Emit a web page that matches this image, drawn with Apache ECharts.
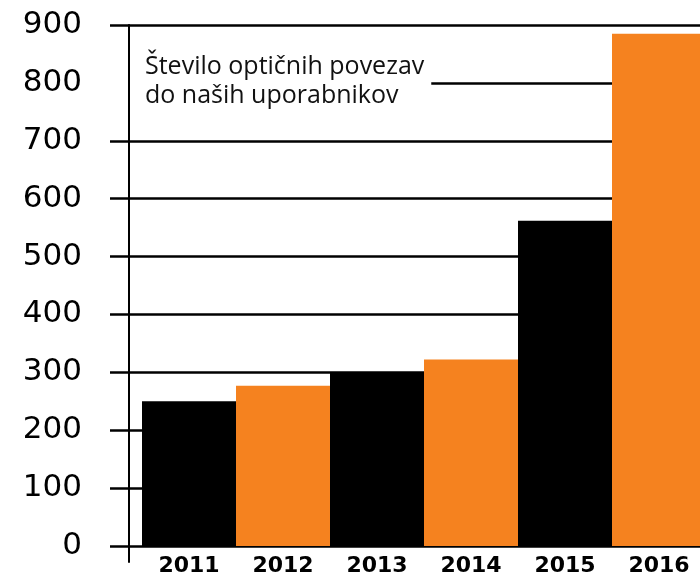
<!DOCTYPE html>
<html>
<head>
<meta charset="utf-8">
<script src="https://cdn.jsdelivr.net/npm/echarts@6/dist/echarts.min.js"></script>
<style>
  html, body { margin: 0; padding: 0; background: #fff; }
  #chart { width: 700px; height: 580px; }
</style>
</head>
<body>
<div id="chart"></div>
<script>
// podatki
const years = ['2011', '2012', '2013', '2014', '2015', '2016']
const connections = [250, 277, 300, 322, 562, 885]
const yMin = 0
const yMax = 900
const yStep = 100
const titleText = 'Število optičnih povezav\ndo naših uporabnikov'

const black = '#000000'
const orange = '#f5821f'

const chart = echarts.init(document.getElementById('chart'))

const option = {
  animation: false,
  backgroundColor: '#ffffff',
  title: {
    text: titleText,
    left: 108,
    top: 44,
    padding: [8, 7, 8, 37],
    backgroundColor: '#ffffff',
    textStyle: {
      fontFamily: 'Open Sans',
      fontSize: 25,
      fontWeight: 'normal',
      lineHeight: 29,
      color: '#111111'
    }
  },
  grid: [
    // mreža za vodoravne črte
    { left: 110, width: 596, top: 25, bottom: 34, outerBoundsMode: 'none' },
    // mreža za stolpce
    { left: 142, width: 564, top: 25, bottom: 34, outerBoundsMode: 'none' },
    // navpična os
    { left: 129, width: 1, top: 25, bottom: 18, outerBoundsMode: 'none' }
  ],
  xAxis: [
    { gridIndex: 0, type: 'value', show: false, min: 0, max: 1 },
    {
      gridIndex: 1,
      type: 'category',
      data: years,
      axisLine: { show: false },
      axisTick: { show: false },
      axisLabel: {
        margin: 9,
        fontFamily: 'DejaVu Sans',
        fontWeight: 'bold',
        fontSize: 22,
        color: '#000'
      }
    },
    { gridIndex: 2, type: 'value', show: false, min: 0, max: 1 }
  ],
  yAxis: [
    {
      gridIndex: 0,
      type: 'value',
      min: yMin,
      max: yMax,
      interval: yStep,
      axisLine: { show: false },
      axisTick: { show: false },
      axisLabel: {
        margin: 28,
        fontFamily: 'DejaVu Sans',
        fontSize: 31,
        color: '#000'
      },
      splitLine: { lineStyle: { color: '#000', width: 2.7 } }
    },
    {
      gridIndex: 1,
      type: 'value',
      min: yMin,
      max: yMax,
      show: false
    },
    {
      gridIndex: 2,
      type: 'value',
      min: 0,
      max: 1,
      z: 10,
      axisLine: { show: true, lineStyle: { color: '#000', width: 2 } },
      axisTick: { show: false },
      axisLabel: { show: false },
      splitLine: { show: false }
    }
  ],
  series: [
    {
      type: 'bar',
      xAxisIndex: 1,
      yAxisIndex: 1,
      barCategoryGap: 0,
      data: connections.map((v, i) => ({
        value: v,
        itemStyle: { color: i % 2 === 0 ? black : orange }
      }))
    }
  ]
}

chart.setOption(option)
</script>
</body>
</html>
